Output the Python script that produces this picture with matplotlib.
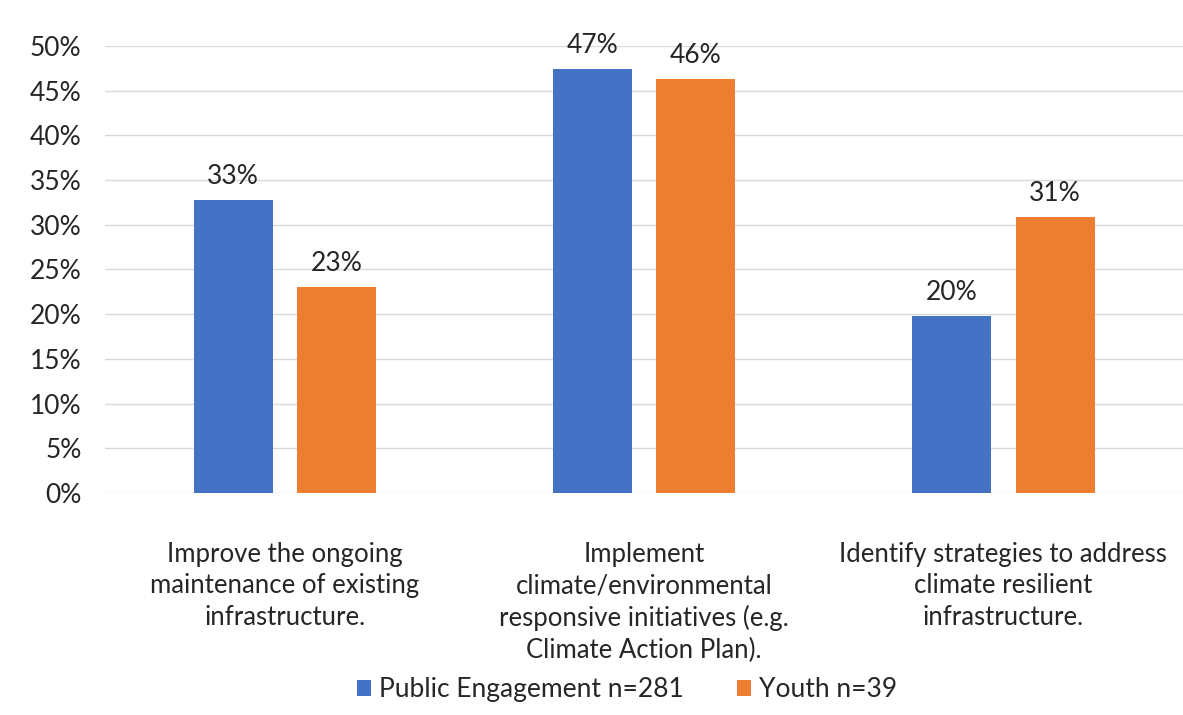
import matplotlib.pyplot as plt
import numpy as np

categories = ['Improve the ongoing\nmaintenance of existing\ninfrastructure.',
              'Implement\nclimate/environmental\nresponsive initiatives (e.g.\nClimate Action Plan).',
              'Identify strategies to address\nclimate resilient\ninfrastructure.']
public = [0.328, 0.474, 0.198]
youth = [0.230, 0.463, 0.309]
series_names = ['Public Engagement n=281', 'Youth n=39']

plt.rcParams['font.family'] = ['Lato', 'DejaVu Sans']

fig = plt.figure(figsize=(11.83, 7.15), dpi=100)
ax = fig.add_axes([0.089, 0.3105, 0.911, 0.6252])

x = np.arange(len(categories))
w = 0.22
off = 0.144
b1 = ax.bar(x - off, public, w, color='#4472C4', label=series_names[0], zorder=3)
b2 = ax.bar(x + off, youth, w, color='#ED7D31', label=series_names[1], zorder=3)

for bars in (b1, b2):
    for b in bars:
        ax.annotate(f'{b.get_height()*100:.0f}%', (b.get_x() + b.get_width() / 2, b.get_height()),
                    xytext=(0, 8), textcoords='offset points', ha='center', va='bottom',
                    fontsize=19, color='#262626')

ax.set_xlim(-0.5, 2.5)
ax.set_ylim(0, 0.5)
ax.set_yticks(np.arange(0, 0.51, 0.05))
ax.set_yticklabels([f'{int(round(v*100))}%' for v in np.arange(0, 0.51, 0.05)], fontsize=19, color='#262626')
ax.set_xticks(x)
ax.set_xticklabels(categories, fontsize=18.5, color='#262626', linespacing=1.33, va='top')
ax.tick_params(axis='both', length=0)
ax.tick_params(axis='y', pad=17)
ax.tick_params(axis='x', pad=35)
ax.grid(axis='y', color='#D9D9D9', linewidth=1, zorder=0)
for s in ax.spines.values():
    s.set_visible(False)

fig.legend(loc='lower center', bbox_to_anchor=(0.53, -0.015), ncol=2, frameon=False,
           fontsize=19, handlelength=0.55, handleheight=0.55, handletextpad=0.3,
           columnspacing=2.0, labelcolor='#262626')

fig.savefig('out.png', dpi=100)
